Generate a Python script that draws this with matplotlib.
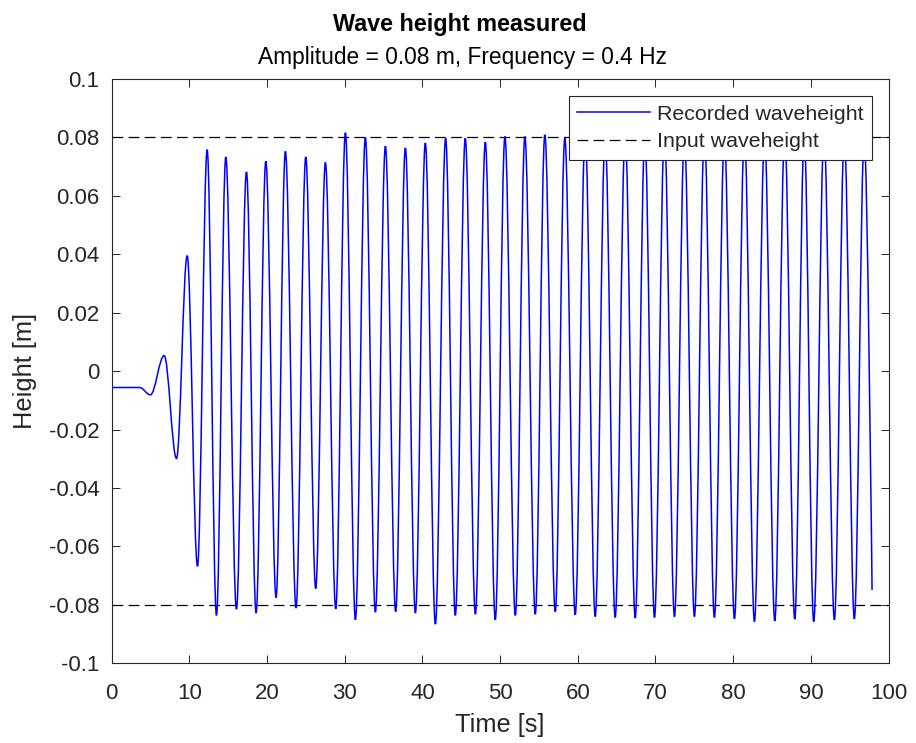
import matplotlib
matplotlib.use('Agg')
import matplotlib.pyplot as plt
from matplotlib.path import Path
from matplotlib.patches import PathPatch
from matplotlib.lines import Line2D

# turning points of the recorded signal (s, m)
time_pts = [0.0, 3.6, 5.0, 6.77, 8.36, 9.73, 11.06, 12.3, 13.5, 14.7,
            16.07, 17.36, 18.6, 19.85, 21.17, 22.37, 23.74, 24.99, 26.27, 27.52,
            28.85, 30.09, 31.38, 32.66, 33.95, 35.24, 36.56, 37.81, 39.1, 40.38,
            41.67, 42.99, 44.24, 45.52, 46.82, 48.1, 49.38, 50.62, 51.96, 53.19,
            54.53, 55.76, 57.1, 58.33, 59.67, 60.95, 62.24, 63.52, 64.81, 66.1,
            67.39, 68.63, 69.87, 71.15, 72.44, 73.72, 75.01, 76.3, 77.58, 78.87,
            80.16, 81.45, 82.73, 84.04, 85.35, 86.63, 87.92, 89.14, 90.36, 91.69,
            93.02, 94.3, 95.59, 96.87, 97.87]
height_pts = [-0.0056, -0.0056, -0.0081, 0.0053, -0.0299, 0.0395, -0.0668, 0.0758, -0.0836, 0.0733,
              -0.0815, 0.0682, -0.0828, 0.0718, -0.0775, 0.0752, -0.0811, 0.0733, -0.0744, 0.0714,
              -0.0814, 0.0816, -0.0851, 0.0800, -0.0825, 0.0770, -0.0823, 0.0764, -0.0828, 0.0781,
              -0.0866, 0.0797, -0.0836, 0.0797, -0.0832, 0.0784, -0.0851, 0.0803, -0.0836, 0.0803,
              -0.0832, 0.0809, -0.0823, 0.0797, -0.0834, 0.0810, -0.0840, 0.0800, -0.0843, 0.0810,
              -0.0845, 0.0800, -0.0843, 0.0810, -0.0840, 0.0800, -0.0840, 0.0810, -0.0843, 0.0800,
              -0.0848, 0.0810, -0.0857, 0.0800, -0.0855, 0.0810, -0.0849, 0.0800, -0.0857, 0.0810,
              -0.0851, 0.0800, -0.0848, 0.0800, -0.0749]
assert len(time_pts) == len(height_pts)

input_amp = 0.08

x_ticks = [0, 10, 20, 30, 40, 50, 60, 70, 80, 90, 100]
y_ticks = [-0.1, -0.08, -0.06, -0.04, -0.02, 0, 0.02, 0.04, 0.06, 0.08, 0.1]
y_ticklabels = ['-0.1', '-0.08', '-0.06', '-0.04', '-0.02', '0',
                '0.02', '0.04', '0.06', '0.08', '0.1']

plt.rcParams['font.family'] = ['Liberation Sans', 'DejaVu Sans']
dark = '#262626'

fig = plt.figure(figsize=(9.16, 7.43), dpi=100)
ax = fig.add_axes([0.1218, 0.1073, 0.8483, 0.7864])

# smooth wave through the turning points (horizontal tangent at each extreme)
k = 0.363
verts = [(time_pts[0], height_pts[0])]
codes = [Path.MOVETO]
for i in range(1, len(time_pts)):
    t0, y0 = time_pts[i - 1], height_pts[i - 1]
    t1, y1 = time_pts[i], height_pts[i]
    dt = t1 - t0
    if i < len(time_pts) - 1:
        c2 = (t1 - k * dt, y1)
    else:
        c2 = (t1, y1)  # record just stops here
    verts += [(t0 + k * dt, y0), c2, (t1, y1)]
    codes += [Path.CURVE4] * 3
ax.add_patch(PathPatch(Path(verts, codes), fill=False, edgecolor='#0000ff', lw=1.1, zorder=3))

dash = (0, (8.6, 4.3))
ax.axhline(input_amp, color='black', lw=0.9, linestyle=dash, zorder=2)
ax.axhline(-input_amp, color='black', lw=0.9, linestyle=dash, zorder=2)

ax.set_xlim(0, 100)
ax.set_ylim(-0.1, 0.1)
ax.set_xticks(x_ticks)
ax.set_yticks(y_ticks)
ax.set_yticklabels(y_ticklabels)
ax.tick_params(direction='in', top=True, right=True, length=5.8, width=0.7,
               colors=dark, labelsize=16)
ax.tick_params(axis='x', pad=14.5)
ax.tick_params(axis='y', pad=8.8)
for s in ax.spines.values():
    s.set_color(dark)
    s.set_linewidth(0.8)

ax.set_xlabel('Time [s]', fontsize=18.3, color=dark)
ax.xaxis.set_label_coords(0.5, -0.085)
ax.set_ylabel('Height [m]', fontsize=18.3, color=dark)
ax.yaxis.set_label_coords(-0.096, 0.5)

fig.text(460 / 916, 1 - 31.5 / 743, 'Wave height measured', ha='center', va='baseline',
         fontsize=16.8, fontweight='bold', color='black')
fig.text(463 / 916, 1 - 64.3 / 743, 'Amplitude = 0.08 m, Frequency = 0.4 Hz', ha='center',
         va='baseline', fontsize=16.4, color='black')

handles = [Line2D([], [], color='#0000ff', lw=1.1),
           Line2D([], [], color='black', lw=0.9, linestyle=dash)]
leg = ax.legend(handles, ['Recorded waveheight', 'Input waveheight'],
                loc='upper right', bbox_to_anchor=(871.7 / 916, 1 - 96 / 743),
                bbox_transform=fig.transFigure, borderaxespad=0, fontsize=15.4,
                fancybox=False, framealpha=1, edgecolor=dark, borderpad=0.4,
                labelspacing=0.4, handlelength=3.4, handletextpad=0.3)
leg.get_frame().set_linewidth(0.8)
for txt in leg.get_texts():
    txt.set_color(dark)

fig.savefig('out.png', dpi=100)
